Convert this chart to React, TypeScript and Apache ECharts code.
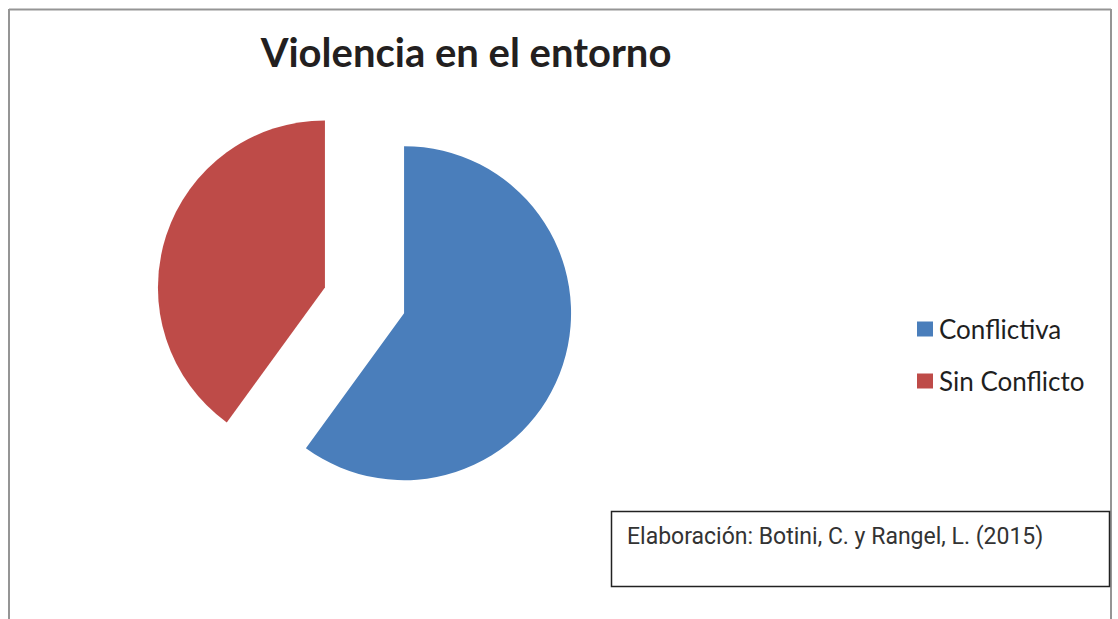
import React, { useEffect, useRef } from "react";
import * as echarts from "echarts";

const categories = ["Conflictiva", "Sin Conflicto"];
const values = [60, 40];
const colors = ["#4a7ebb", "#be4b48"];
const titleText = "Violencia en el entorno";
const sourceText = "Elaboración: Botini, C. y Rangel, L. (2015)";

export default function App() {
  const ref = useRef<HTMLDivElement>(null);
  useEffect(() => {
    if (!ref.current) return;
    const chart = echarts.init(ref.current, undefined, { renderer: "svg" });
    chart.setOption({
      animation: false,
      backgroundColor: "#ffffff",
      legend: {
        orient: "vertical",
        left: 912,
        top: 311,
        icon: "rect",
        itemWidth: 16,
        itemHeight: 15,
        itemGap: 26,
        selectedMode: false,
        data: categories,
        textStyle: {
          fontFamily: "Lato",
          fontSize: 26,
          lineHeight: 26,
          color: "#1f1f1f",
          padding: [0, 0, 0, 1],
        },
      },
      graphic: [
        {
          type: "line",
          shape: { x1: 9, y1: 9.5, x2: 1111, y2: 9.5 },
          style: { stroke: "#959595", lineWidth: 2 },
          silent: true,
        },
        {
          type: "line",
          shape: { x1: 9, y1: 9, x2: 9, y2: 619 },
          style: { stroke: "#959595", lineWidth: 2 },
          silent: true,
        },
        {
          type: "line",
          shape: { x1: 1111, y1: 9, x2: 1111, y2: 619 },
          style: { stroke: "#959595", lineWidth: 2 },
          silent: true,
        },
        {
          type: "text",
          x: 466,
          y: 52,
          style: {
            text: titleText,
            fontFamily: "Lato",
            fontWeight: "bold",
            fontSize: 40,
            fill: "#231f20",
            textAlign: "center",
            textVerticalAlign: "middle",
          },
          silent: true,
        },
        {
          type: "rect",
          shape: { x: 611.5, y: 511.5, width: 498, height: 75 },
          style: { fill: "none", stroke: "#222222", lineWidth: 1.5 },
          silent: true,
        },
        {
          type: "text",
          x: 627,
          y: 536,
          style: {
            text: sourceText,
            fontFamily: "Roboto",
            fontSize: 23,
            fill: "#333333",
            textAlign: "left",
            textVerticalAlign: "middle",
          },
          silent: true,
        },
      ],
      series: [
        {
          type: "pie",
          center: [364.5, 300.3],
          radius: 167,
          startAngle: 90,
          clockwise: true,
          selectedMode: "multiple",
          selectedOffset: 41.6,
          avoidLabelOverlap: false,
          label: { show: false },
          labelLine: { show: false },
          emphasis: { disabled: true },
          itemStyle: { borderWidth: 0 },
          data: categories.map((name, i) => ({
            name,
            value: values[i],
            selected: true,
            itemStyle: { color: colors[i] },
          })),
        },
      ],
    });
    return () => chart.dispose();
  }, []);
  return (
    <div
      ref={ref}
      style={{ position: "absolute", left: 0, top: 0, width: 1118, height: 619 }}
    />
  );
}
